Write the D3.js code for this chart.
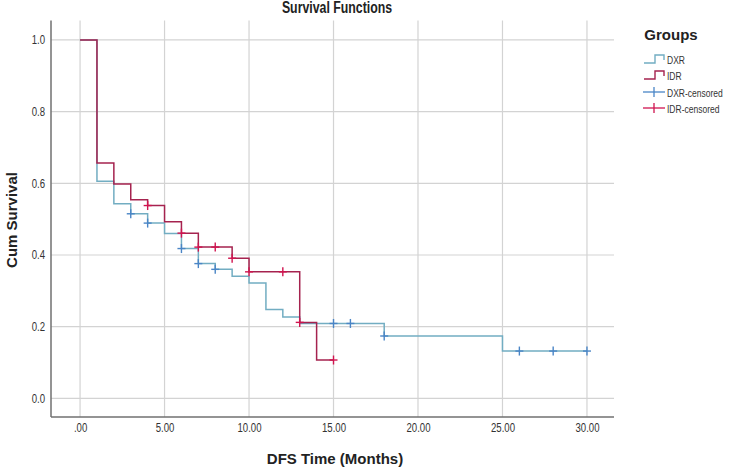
<!DOCTYPE html>
<html><head><meta charset="utf-8">
<script src="https://cdn.jsdelivr.net/npm/d3@7"></script>
<style>body{margin:0;background:#fff}svg{display:block}text{font-family:"Liberation Sans",Arial,sans-serif}</style>
</head><body><svg id="c" width="729" height="468"></svg>
<script>
// Data
const xTicks = [0, 5, 10, 15, 20, 25, 30];
const xTickLabels = [".00", "5.00", "10.00", "15.00", "20.00", "25.00", "30.00"];
const yTicks = [0, 0.2, 0.4, 0.6, 0.8, 1.0];
const yTickLabels = ["0.0", "0.2", "0.4", "0.6", "0.8", "1.0"];

const dxrTimes = [0, 1, 2, 3, 4, 5, 6, 7, 8, 9, 10, 11, 12, 13, 18, 25];
const dxrSurv  = [1, 0.606, 0.543, 0.515, 0.489, 0.460, 0.418, 0.376, 0.360, 0.341, 0.322, 0.248, 0.227, 0.209, 0.174, 0.132];
const dxrEnd = 30;
const dxrCensTimes = [3, 4, 6, 7, 8, 15, 16, 18, 26, 28, 30];
const dxrCensSurv  = [0.515, 0.489, 0.418, 0.376, 0.360, 0.209, 0.209, 0.174, 0.132, 0.132, 0.132];

const idrTimes = [0, 1, 2, 3, 4, 5, 6, 7, 9, 10, 13, 14];
const idrSurv  = [1, 0.657, 0.598, 0.554, 0.538, 0.493, 0.461, 0.422, 0.391, 0.353, 0.212, 0.107];
const idrEnd = 15;
const idrCensTimes = [4, 6, 7, 8, 9, 10, 12, 13, 15];
const idrCensSurv  = [0.538, 0.461, 0.422, 0.422, 0.391, 0.353, 0.353, 0.212, 0.107];

const legendLabels = ["DXR", "IDR", "DXR-censored", "IDR-censored"];

const colDxr = "#72adc2", colIdr = "#a5234f", colDxrC = "#4a85c6", colIdrC = "#d0144f";

const svg = d3.select("#c");
const L = 51, R = 614, T = 20.6, B = 417;
const x = d3.scaleLinear().domain([-1.72, 31.6]).range([L, R]);
const y = d3.scaleLinear().domain([-0.052, 1.054]).range([B, T]);

// condense text horizontally (narrow font look)
function condense(sel, f) {
  sel.each(function () {
    const w = this.getComputedTextLength();
    d3.select(this).attr("textLength", w * f).attr("lengthAdjust", "spacingAndGlyphs");
  });
}

// grid
svg.append("g").selectAll("line").data(xTicks).join("line")
  .attr("x1", d => x(d)).attr("x2", d => x(d)).attr("y1", T).attr("y2", B)
  .attr("stroke", "#d3d3d3").attr("stroke-width", 1.2);
svg.append("g").selectAll("line").data(yTicks).join("line")
  .attr("x1", L).attr("x2", R).attr("y1", d => y(d)).attr("y2", d => y(d))
  .attr("stroke", "#d3d3d3").attr("stroke-width", 1.2);

// axes
const xAxis = d3.axisBottom(x).tickValues(xTicks).tickFormat((d, i) => xTickLabels[i]).tickSize(0).tickPadding(6);
const yAxis = d3.axisLeft(y).tickValues(yTicks).tickFormat((d, i) => yTickLabels[i]).tickSize(0).tickPadding(6);
const gx = svg.append("g").attr("transform", `translate(0,${B})`).call(xAxis);
const gy = svg.append("g").attr("transform", `translate(${L},0)`).call(yAxis);
[gx, gy].forEach(g => {
  g.attr("font-family", null);
  g.select(".domain").attr("stroke", "#707070").attr("stroke-width", 1.5);
  g.selectAll("text").attr("fill", "#333").style("font-size", "12px");
  condense(g.selectAll("text"), 0.8);
});
gx.select(".domain").attr("d", `M${L},0H${R}`);
gy.select(".domain").attr("d", `M0,${T}V${B}`);

// step curves
function stepData(times, surv, end) {
  const pts = times.map((t, i) => [t, surv[i]]);
  pts.push([end, surv[surv.length - 1]]);
  return pts;
}
const line = d3.line().x(d => x(d[0])).y(d => y(d[1])).curve(d3.curveStepAfter);
svg.append("path").datum(stepData(dxrTimes, dxrSurv, dxrEnd)).attr("d", line)
  .attr("fill", "none").attr("stroke", colDxr).attr("stroke-width", 1.5);
svg.append("path").datum(stepData(idrTimes, idrSurv, idrEnd)).attr("d", line)
  .attr("fill", "none").attr("stroke", colIdr).attr("stroke-width", 1.5);

function censor(times, surv, col) {
  const g = svg.append("g").attr("stroke", col).attr("stroke-width", 1.4);
  times.forEach((t, i) => {
    g.append("line").attr("x1", x(t)).attr("x2", x(t)).attr("y1", y(surv[i]) - 4.5).attr("y2", y(surv[i]) + 4.5);
    g.append("line").attr("x1", x(t) - 4).attr("x2", x(t) + 4).attr("y1", y(surv[i])).attr("y2", y(surv[i]));
  });
}
censor(dxrCensTimes, dxrCensSurv, colDxrC);
censor(idrCensTimes, idrCensSurv, colIdrC);

// titles
const title = svg.append("text").attr("x", 337).attr("y", 13).attr("text-anchor", "middle")
  .style("font-size", "16px").style("font-weight", "bold").attr("fill", "#222").text("Survival Functions");
condense(title, 0.77);
svg.append("text").attr("x", 335).attr("y", 464).attr("text-anchor", "middle")
  .style("font-size", "15px").style("font-weight", "bold").attr("fill", "#222").text("DFS Time (Months)");
svg.append("text").attr("transform", "translate(17,220) rotate(-90)").attr("text-anchor", "middle")
  .style("font-size", "15px").style("font-weight", "bold").attr("fill", "#222").text("Cum Survival");

// legend
const lg = svg.append("g");
lg.append("text").attr("x", 671).attr("y", 40).attr("text-anchor", "middle")
  .style("font-size", "15px").style("font-weight", "bold").attr("fill", "#222").text("Groups");
const ly = [59, 75, 92, 108];
const lcols = [colDxr, colIdr, colDxrC, colIdrC];
legendLabels.forEach((lab, i) => {
  const yy = ly[i];
  if (i < 2) {
    lg.append("path").attr("d", `M644,${yy + 4}H655V${yy - 4}H664V${yy + 1}`)
      .attr("fill", "none").attr("stroke", lcols[i]).attr("stroke-width", 1.4);
  } else {
    lg.append("line").attr("x1", 643).attr("x2", 665).attr("y1", yy).attr("y2", yy).attr("stroke", lcols[i]).attr("stroke-width", 1.3);
    lg.append("line").attr("x1", 654).attr("x2", 654).attr("y1", yy - 5).attr("y2", yy + 5).attr("stroke", lcols[i]).attr("stroke-width", 1.3);
  }
  const t = lg.append("text").attr("x", 667).attr("y", yy + 4.5).style("font-size", "11.5px").attr("fill", "#333").text(lab);
  condense(t, 0.74);
});
</script></body></html>
